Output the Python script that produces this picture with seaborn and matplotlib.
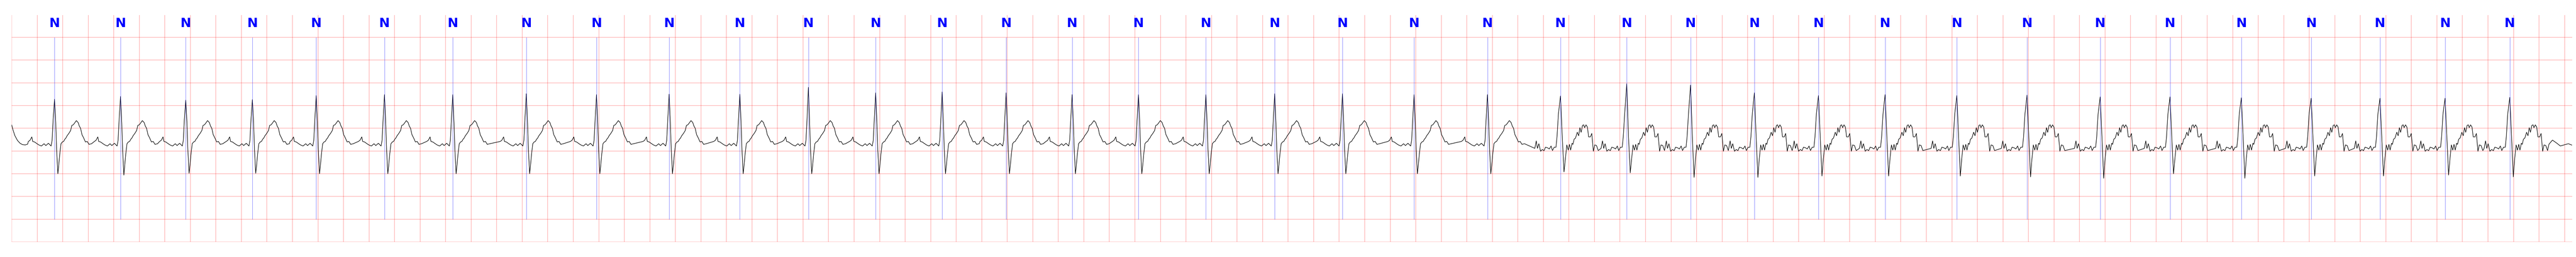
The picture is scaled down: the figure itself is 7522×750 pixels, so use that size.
import matplotlib
matplotlib.use('Agg')
import matplotlib.pyplot as plt
import numpy as np
import pandas as pd
import seaborn as sns

# R-peak times (s) of the annotated beats
beat_times = [0.336, 0.853, 1.364, 1.886, 2.386, 2.921, 3.456, 4.032, 4.582, 5.151,
              5.705, 6.242, 6.769, 7.290, 7.791, 8.308, 8.828, 9.356, 9.895, 10.426,
              10.987, 11.562, 12.134, 12.653, 13.153, 13.653, 14.155, 14.677, 15.239,
              15.789, 16.362, 16.909, 17.468, 18.015, 18.554, 19.064, 19.571]
beat_labels = ['N'] * 37

# R and S amplitudes (mV) per beat
r_amp = [0.64, 0.70, 0.62, 0.63, 0.72, 0.74, 0.74, 0.76, 0.74, 0.75,
         0.75, 0.90, 0.78, 0.80, 0.78, 0.74, 0.74, 0.74, 0.76, 0.76,
         0.74, 0.74, 0.71, 0.98, 0.95, 0.78, 0.72, 0.74, 0.72, 0.73,
         0.69, 0.69, 0.67, 0.66, 0.66, 0.66, 0.68]
s_amp = [-1.00, -1.03, -0.99, -0.99, -1.00, -1.00, -1.00, -1.00, -1.00, -1.00,
         -1.00, -1.00, -1.00, -1.00, -1.00, -1.00, -1.00, -1.00, -1.00, -1.00,
         -1.00, -1.00, -0.96, -0.98, -1.08, -1.08, -1.05, -1.05, -1.05, -1.07,
         -1.10, -1.00, -1.10, -1.05, -1.05, -1.03, -1.07]
# 1 = baseline noise on that beat
noisy = [0] * 22 + [1] * 15

# signal before the first beat (tail of a T wave)
lead_t = [0.0, 0.011, 0.025, 0.045, 0.066, 0.085, 0.107, 0.125]
lead_v = [0.076, -0.04, -0.16, -0.265, -0.33, -0.36, -0.366, -0.35]

# signal after the last beat
tail_t = [19.878, 19.905, 19.94, 19.967, 20.003, 20.03, 20.057]
tail_v = [-0.35, -0.26, -0.33, -0.39, -0.36, -0.34, -0.37]

# clean beat shape, time offsets from R (s) and level (mV); 'R' / 'S' take the per-beat values
clean_dt = [-0.205, -0.192, -0.178, -0.171, -0.157, -0.137, -0.123, -0.103, -0.082, -0.068,
            -0.048, -0.027, -0.019, -0.011, 0.0, 0.0096, 0.0164, 0.026, 0.0328, 0.041,
            0.0506, 0.0616, 0.071, 0.0808, 0.089, 0.0985, 0.112, 0.126, 0.1355, 0.1465,
            0.157, 0.171, 0.185, 0.194, 0.204, 0.215, 0.2286, 0.242, 0.256, 0.27, 0.29]
clean_v = [-0.29, -0.265, -0.19, -0.29, -0.30, -0.34, -0.366, -0.39, -0.34, -0.38,
           -0.33, -0.39, -0.265, 0.19, 'R', 0.114, -0.467, 'S', -0.82, -0.568,
           -0.34, -0.30, -0.29, -0.24, -0.215, -0.164, -0.114, -0.05, 0.063, 0.076,
           0.114, 0.169, 0.126, 0.05, 0.0, -0.14, -0.215, -0.30, -0.29, -0.354, -0.34]

# noisy beat shape
noisy_dt = [-0.2012, -0.19, -0.1807, -0.1697, -0.156, -0.1423, -0.1287, -0.1177, -0.1013, -0.0876,
            -0.0739, -0.063, -0.0493, -0.0356, -0.0274, -0.0164, 0.0, 0.0137, 0.0274, 0.0383,
            0.0493, 0.0602, 0.0698, 0.0794, 0.0903, 0.0972, 0.1068, 0.1177, 0.1314, 0.1423,
            0.1519, 0.1615, 0.1725, 0.182, 0.1889, 0.1998, 0.2108, 0.2204, 0.234, 0.245,
            0.2573, 0.2683, 0.282, 0.2956]
noisy_v = [-0.442, -0.278, -0.442, -0.34, -0.505, -0.467, -0.492, -0.417, -0.43, -0.455,
           -0.39, -0.49, -0.417, -0.417, -0.19, 0.316, 'R', -0.19, 'S', -0.67,
           -0.366, -0.48, -0.354, -0.48, -0.33, -0.354, -0.24, -0.215, -0.088, -0.164,
           0.013, -0.088, 0.063, 0.076, 0.013, 0.076, 0.025, -0.19, -0.19, -0.114,
           -0.505, -0.366, -0.38, -0.49]

ts = list(lead_t)
vs = list(lead_v)
for i, t0 in enumerate(beat_times):
    dts, vals = (noisy_dt, noisy_v) if noisy[i] else (clean_dt, clean_v)
    for dt, v in zip(dts, vals):
        if v == 'R':
            v = r_amp[i]
        elif v == 'S':
            v = s_amp[i]
        ts.append(t0 + dt)
        vs.append(v)
ts += tail_t
vs += tail_v
ecg = pd.DataFrame({'time': ts, 'mV': vs})

sns.set_style('white')
fig = plt.figure(figsize=(75.22, 7.5), dpi=100)
ax = fig.add_axes([34 / 7522, 44 / 750, (7511 - 34) / 7522, (706 - 44) / 750])

sns.lineplot(data=ecg, x='time', y='mV', color='black', linewidth=1.1,
             estimator=None, sort=False, ax=ax)

ax.vlines(beat_times, -2.0, 2.0, color='blue', linewidth=0.7, alpha=0.6)
for t, lab in zip(beat_times, beat_labels):
    ax.text(t, 2.3, lab, ha='center', va='center', color='blue', fontsize=27,
            fontweight='bold', family=['Liberation Sans Narrow', 'DejaVu Sans'])

ax.set_xlim(0, 20.06)
ax.set_ylim(-2.5, 2.49)
ax.set_xticks(np.arange(0, 20.01, 0.2))
ax.set_yticks(np.arange(-2.5, 2.01, 0.5))
ax.grid(True, color='red', alpha=0.25, linewidth=1.5)
ax.tick_params(length=0, labelbottom=False, labelleft=False)
ax.set_xlabel('')
ax.set_ylabel('')
for s in ax.spines.values():
    s.set_visible(False)

fig.savefig('out.png', dpi=100)
